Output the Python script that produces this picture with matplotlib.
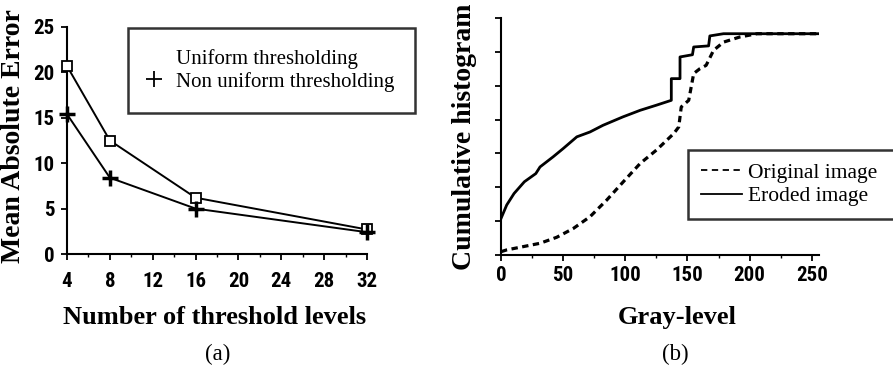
import numpy as np
import matplotlib
matplotlib.use("Agg")
import matplotlib.pyplot as plt
from matplotlib import font_manager
from matplotlib.lines import Line2D
from matplotlib.ticker import MultipleLocator

# panel (a) data
levels = [4, 8, 16, 32]
uniform_mae = [20.7, 12.5, 6.2, 2.7]
nonuniform_mae = [15.4, 8.4, 5.0, 2.4]

# panel (b) data
orig_x = [0, 4.6, 18, 31.4, 44.8, 58.2, 71.6, 85, 98.4, 112, 125, 139, 143, 145,
          151, 155, 160, 165, 171, 179, 192, 206, 255]
orig_y = [0.015, 0.023, 0.038, 0.053, 0.08, 0.12, 0.173, 0.248, 0.331, 0.414, 0.474,
          0.549, 0.579, 0.669, 0.699, 0.82, 0.842, 0.857, 0.925, 0.962, 0.985, 1.0, 1.0]
eroded_x = [0, 4.6, 10.5, 18.8, 28, 31.4, 42, 50, 61, 71.6, 82, 98, 112, 125, 137,
            137, 144, 144, 154, 155, 167, 168, 179, 255]
eroded_y = [0.165, 0.226, 0.278, 0.331, 0.368, 0.398, 0.444, 0.481, 0.534, 0.556,
            0.586, 0.624, 0.654, 0.677, 0.699, 0.797, 0.797, 0.895, 0.905, 0.94,
            0.945, 0.99, 1.0, 1.0]

# narrow bold face for tick numbers, if one is around
installed = {f.name for f in font_manager.fontManager.ttflist}
narrow = [n for n in ['Liberation Sans Narrow', 'Roboto Condensed', 'Archivo Narrow',
                      'PT Sans Narrow', 'Arimo Narrow', 'Barlow Condensed',
                      'Open Sans Condensed', 'IBM Plex Sans Condensed',
                      'Fira Sans Condensed', 'Encode Sans Condensed',
                      'DejaVu Sans Condensed'] if n in installed]
tick_font = (narrow[:1] or ['DejaVu Sans']) + ['DejaVu Sans']
tick_size = 15 if narrow else 11.5
serif = ['Liberation Serif', 'DejaVu Serif']

W, H = 893, 383
fig = plt.figure(figsize=(W / 100, H / 100), dpi=100)

def fx(px):
    return px / W

def fy(py):
    return 1 - py / H

def style_axes(ax):
    for s in ['top', 'right']:
        ax.spines[s].set_visible(False)
    for s in ['left', 'bottom']:
        ax.spines[s].set_linewidth(1.5)
    ax.tick_params(which='major', direction='out', length=4, width=1.3)
    ax.tick_params(which='minor', direction='out', length=2.5, width=1.0)
    for lab in ax.get_xticklabels() + ax.get_yticklabels():
        lab.set_family(tick_font)
        lab.set_fontweight('bold')
        lab.set_fontsize(tick_size)

# ---- (a)
ax1 = fig.add_axes([fx(67), fy(254), fx(367 - 67), (254 - 27) / H])
ax1.plot(levels, uniform_mae, color='black', lw=1.4, marker='s', ms=7.5,
         mfc='white', mec='black', mew=1.3, clip_on=False, zorder=3)
ax1.plot(levels, nonuniform_mae, color='black', lw=1.4, marker='+', ms=12, mew=2.5,
         clip_on=False, zorder=3)
ax1.set_xlim(4, 32)
ax1.set_ylim(0, 25)
ax1.set_xticks(np.arange(4, 33, 4))
ax1.xaxis.set_minor_locator(MultipleLocator(2))
ax1.set_yticks(np.arange(0, 26, 5))
ax1.tick_params(axis='x', which='major', pad=9)
ax1.tick_params(axis='y', which='major', pad=5)
style_axes(ax1)

handles1 = [Line2D([], [], linestyle='none'),
            Line2D([], [], linestyle='none', marker='+', color='black', ms=11, mew=1.3)]
leg1 = ax1.legend(handles1, ['Uniform thresholding', 'Non uniform thresholding'],
                  loc='upper left', bbox_to_anchor=(fx(128), fy(28)),
                  bbox_transform=fig.transFigure, prop={'family': serif, 'size': 15},
                  frameon=True, fancybox=False, edgecolor='black', borderpad=1.0,
                  handlelength=0.5, handletextpad=0.8, labelspacing=0.15,
                  borderaxespad=0)
leg1.get_frame().set_linewidth(1.8)

# ---- (b)
ax2 = fig.add_axes([fx(501), fy(255), 256 * (818 - 501) / 255 / W, (255 - 18) / H])
ax2.plot(orig_x, orig_y, color='black', lw=2.3, dashes=(2.0, 1.4))
ax2.plot(eroded_x, eroded_y, color='black', lw=2.0)
ax2.set_xlim(0, 256)
ax2.set_ylim(0, 1.07)
ax2.set_xticks(np.arange(0, 251, 50))
ax2.xaxis.set_minor_locator(MultipleLocator(25))
ax2.set_yticks(np.arange(8) * 0.153)
ax2.set_yticklabels([])
ax2.tick_params(axis='x', which='major', pad=4)
style_axes(ax2)

handles2 = [Line2D([], [], color='black', lw=1.3, dashes=(3.5, 2.5)),
            Line2D([], [], color='black', lw=1.3)]
leg2 = ax2.legend(handles2, ['Original image', 'Eroded image'],
                  loc='upper left', mode='expand',
                  bbox_to_anchor=(fx(688), fy(220), fx(230), fy(150) - fy(220)),
                  bbox_transform=fig.transFigure, prop={'family': serif, 'size': 15.5},
                  frameon=True, fancybox=False, edgecolor='black', borderpad=0.6,
                  handlelength=1.9, handletextpad=0.3, labelspacing=0.15,
                  borderaxespad=0)
leg2.get_frame().set_linewidth(1.8)

# ---- labels
ylab_kw = dict(family=serif, fontweight='bold', fontsize=20)
xlab_kw = dict(family=serif, fontweight='bold', fontsize=19)
fig.text(fx(14), fy(136), 'Mean Absolute Error', rotation=90, ha='center', va='center', **ylab_kw)
fig.text(fx(465), fy(137), 'Cumulative histogram', rotation=90, ha='center', va='center', **ylab_kw)
fig.text(fx(215), fy(324), 'Number of threshold levels', ha='center', va='baseline', **xlab_kw)
fig.text(fx(677), fy(324), 'Gray-level', ha='center', va='baseline', **xlab_kw)
fig.text(fx(218), fy(354), '(a)', ha='center', va='center', family=serif, fontsize=16.5)
fig.text(fx(675), fy(354), '(b)', ha='center', va='center', family=serif, fontsize=16.5)

fig.savefig('out.png', dpi=100)
